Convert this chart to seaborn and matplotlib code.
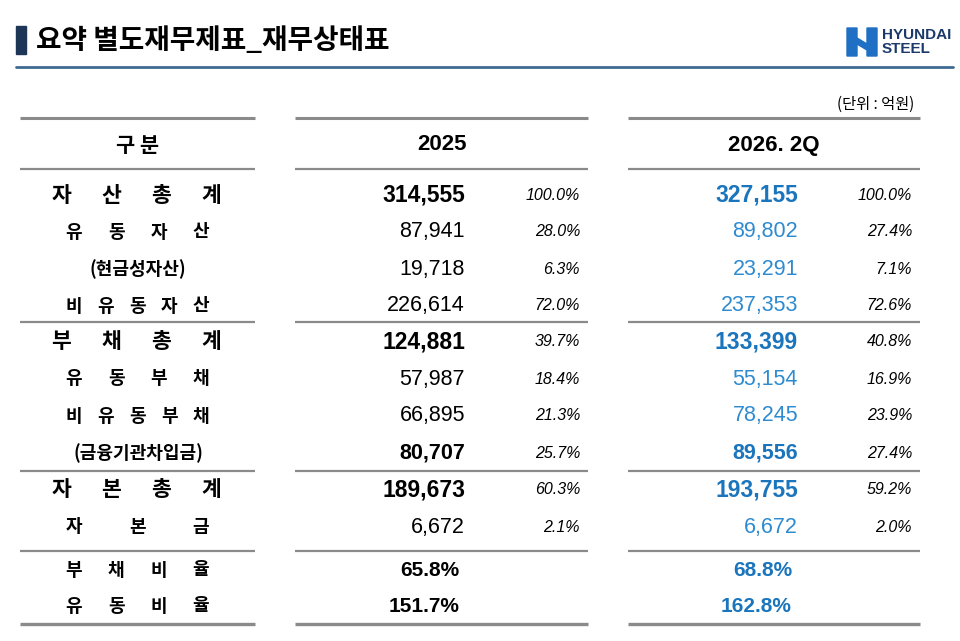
import numpy as np
import pandas as pd
import seaborn as sns
import matplotlib.pyplot as plt
from matplotlib.patches import Rectangle, Polygon

# +---------------------+
# | Datos de la tabla   |
# +---------------------+
titulo = "요약 별도재무제표_재무상태표"
unidad = "(단위 : 억원)"
col_headers = ["구 분", "2025", "2026. 2Q"]

rubros = ["자산총계", "유동자산", "(현금성자산)", "비유동자산", "부채총계",
          "유동부채", "비유동부채", "(금융기관차입금)", "자본총계", "자본금"]
monto_2025 = [314555, 87941, 19718, 226614, 124881, 57987, 66895, 80707, 189673, 6672]
pct_2025 = [100.0, 28.0, 6.3, 72.0, 39.7, 18.4, 21.3, 25.7, 60.3, 2.1]
monto_2026 = [327155, 89802, 23291, 237353, 133399, 55154, 78245, 89556, 193755, 6672]
pct_2026 = [100.0, 27.4, 7.1, 72.6, 40.8, 16.9, 23.9, 27.4, 59.2, 2.0]
totales = ["자산총계", "부채총계", "자본총계"]
negritas = ["자산총계", "부채총계", "(금융기관차입금)", "자본총계"]

ratios = ["부채비율", "유동비율"]
ratio_2025 = [65.8, 151.7]
ratio_2026 = [68.8, 162.8]

df = pd.DataFrame({"rubro": rubros, "m25": monto_2025, "p25": pct_2025,
                   "m26": monto_2026, "p26": pct_2026})

# +---------------------+
# | Estilo              |
# +---------------------+
sns.set_theme(style="white")
plt.rcParams['font.family'] = ['Noto Sans CJK KR', 'DejaVu Sans']
plt.rcParams['text.color'] = 'black'
KR = ['Noto Sans CJK KR', 'DejaVu Sans']
NUM = ['Liberation Sans', 'DejaVu Sans']
AZUL = "#1b75bc"
AZUL_CLARO = "#2e8bd0"
GRIS = "#8a8a8a"

fig = plt.figure(figsize=(9.6, 6.41), dpi=100)
ax = fig.add_axes([0, 0, 1, 1])
ax.set_xlim(0, 960)
ax.set_ylim(641, 0)
ax.axis('off')

# encabezado
ax.add_patch(Rectangle((16, 26), 10, 28, color="#1d3557"))
ax.text(36, 41, titulo, family=KR, fontsize=20, fontweight='bold', va='center', ha='left')
ax.plot([16, 953], [67, 67], color="#3f6b93", lw=2)

# logo
ax.add_patch(Polygon([(847, 28), (857, 28), (857, 38), (867, 44), (867, 28), (877, 28),
                      (877, 56), (867, 56), (867, 50), (857, 44), (857, 56), (847, 56)],
                     closed=True, color="#1f6fc4"))
ax.text(882, 35, "HYUNDAI", family=NUM, fontsize=11, fontweight='bold', color="#1b3a6b", va='center')
ax.text(882, 49, "STEEL", family=NUM, fontsize=11, fontweight='bold', color="#1b3a6b", va='center')

ax.text(914, 104, unidad, family=KR, fontsize=11, ha='right', va='center')

# columnas
cols = [(20, 255), (295, 588), (628, 920)]
for y, lw in [(118, 2.2), (169, 1.6), (322, 1.6), (471, 1.6), (551, 1.6), (624, 2.4)]:
    for x0, x1 in cols:
        ax.plot([x0, x1], [y, y], color=GRIS, lw=lw, solid_capstyle='butt')

for (x0, x1), h in zip(cols, col_headers):
    ax.text((x0 + x1) / 2, 145, h, family=NUM if h[0].isdigit() else KR,
            fontsize=16 if h[0].isdigit() else 15, fontweight='bold', ha='center', va='center')


def rubro_espaciado(txt, y, x_ini, x_fin, size):
    xs = np.linspace(x_ini, x_fin, len(txt))
    for x, ch in zip(xs, txt):
        ax.text(x, y, ch, family=KR, fontsize=size, fontweight='bold', ha='center', va='center')


filas_y = [195, 232, 269, 306, 342, 379, 416, 453, 490, 527]
for y, fila in zip(filas_y, df.itertuples()):
    if fila.rubro in totales:
        rubro_espaciado(fila.rubro, y, 61, 211, 15.5)
    elif fila.rubro.startswith("("):
        ax.text(138, y, fila.rubro, family=KR, fontsize=13, fontweight='bold', ha='center', va='center')
    else:
        rubro_espaciado(fila.rubro, y, 74, 201, 13)
    peso = 'bold' if fila.rubro in negritas else 'normal'
    tam = 16.5 if fila.rubro in totales else 15.5
    ax.text(465, y, f"{fila.m25:,}", family=NUM, fontsize=tam, fontweight=peso, ha='right', va='center')
    ax.text(580, y, f"{fila.p25:.1f}%", family=NUM, fontsize=11.5, style='italic', ha='right', va='center')
    ax.text(798, y, f"{fila.m26:,}", family=NUM, fontsize=tam, fontweight=peso,
            color=AZUL if peso == 'bold' else AZUL_CLARO, ha='right', va='center')
    ax.text(912, y, f"{fila.p26:.1f}%", family=NUM, fontsize=11.5, style='italic', ha='right', va='center')

for y, r, a, b in zip([570, 606], ratios, ratio_2025, ratio_2026):
    rubro_espaciado(r, y, 74, 201, 13)
    ax.text(459, y, f"{a:.1f}%", family=NUM, fontsize=15, fontweight='bold', ha='right', va='center')
    ax.text(792, y, f"{b:.1f}%", family=NUM, fontsize=15, fontweight='bold', color=AZUL, ha='right', va='center')

fig.savefig("out.png", dpi=100)
